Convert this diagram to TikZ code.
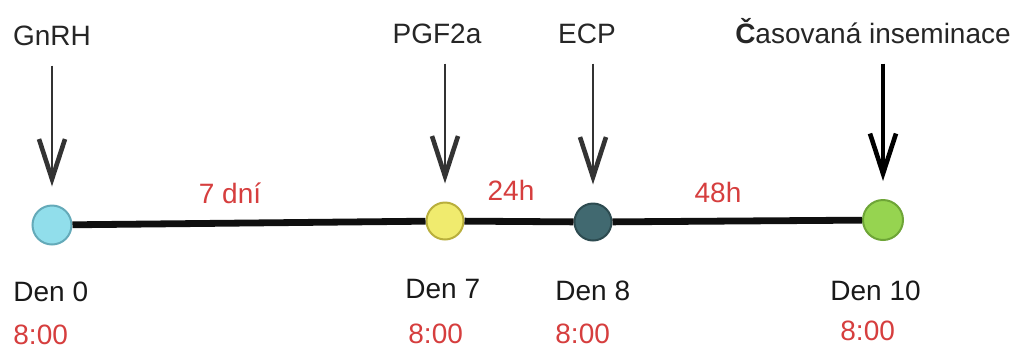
\documentclass[tikz,border=0pt]{standalone}
\usepackage{fontspec}
\setmainfont{Liberation Sans}
\usepackage{tikz}
\usetikzlibrary{arrows.meta,positioning}
\definecolor{myred}{RGB}{214,62,62}
\definecolor{myline}{RGB}{15,15,15}
\definecolor{cyanfill}{RGB}{145,222,235}
\definecolor{cyandraw}{RGB}{100,170,185}
\definecolor{yelfill}{RGB}{240,235,110}
\definecolor{yeldraw}{RGB}{185,175,60}
\definecolor{tealfill}{RGB}{65,105,112}
\definecolor{tealdraw}{RGB}{45,75,80}
\definecolor{grnfill}{RGB}{150,212,80}
\definecolor{grndraw}{RGB}{110,165,55}
\tikzset{
    line/.style    = {draw=myline, line width=3.4pt},
    pointer/.style = {-{Straight Barb[length=20pt,width=13pt,line width=2.3pt]},
            draw=black!80, line width=1.1pt, shorten <=10pt, shorten >=9pt},
    dot/.style     = {circle, line width=1pt, minimum size=18.5pt, inner sep=0pt},
    drug/.style    = {anchor=base, inner sep=0pt, text=black!85},
    day/.style     = {anchor=base west, inner sep=0pt, text=black!90},
    clock/.style   = {anchor=base west, inner sep=0pt, text=myred},
    span/.style    = {anchor=base, inner sep=0pt, text=myred},
}

\begin{document}
\begin{tikzpicture}[x=0.5pt, y=-0.5pt, every node/.style={font=\fontsize{14}{17}\selectfont}]
    \useasboundingbox[fill=white] (0,0) rectangle (1017,349);
    % Nodes
    \node[dot, draw=cyandraw, fill=cyanfill, minimum size=19.5pt] (d0) at (52,225) {};
    \node[dot, draw=yeldraw, fill=yelfill] (d7) at (445,221) {};
    \node[dot, draw=tealdraw, fill=tealfill] (d8) at (593,222) {};
    \node[dot, draw=grndraw, fill=grnfill, minimum size=20pt] (d10) at (883,220) {};

    \node[drug] (gnrh) at (52,45) {GnRH};
    \node[drug] (pgf) at (437,43) {PGF2a};
    \node[drug] (ecp) at (587,43) {ECP};
    \node[drug] (ins) at (873,43) {\textbf{Č}asovaná inseminace};

    \node[span] (s7) at (230,203) {7 dní};
    \node[span] (s24) at (511,200) {24h};
    \node[span] (s48) at (718,202) {48h};

    \node[day] (den0) at (13,301) {Den 0};
    \node[day] (den7) at (405,298) {Den 7};
    \node[day] (den8) at (555,300) {Den 8};
    \node[day] (den10) at (830,300) {Den 10};

    \node[clock] (t0) at (13,344) {8:00};
    \node[clock] (t7) at (408,343) {8:00};
    \node[clock] (t8) at (555,343) {8:00};
    \node[clock] (t10) at (840,340) {8:00};

    % Arrows
    \draw[line] (d0) -- (d7);
    \draw[line] (d7) -- (d8);
    \draw[line] (d8) -- (d10);
    \draw[pointer] (gnrh.south -| d0) -- (d0.north);
    \draw[pointer] (pgf.south -| d7) -- (d7.north);
    \draw[pointer] (ecp.south -| d8) -- (d8.north);
    \draw[pointer, line width=2.2pt, draw=black] (ins.south -| d10) -- (d10.north);
\end{tikzpicture}
\end{document}
